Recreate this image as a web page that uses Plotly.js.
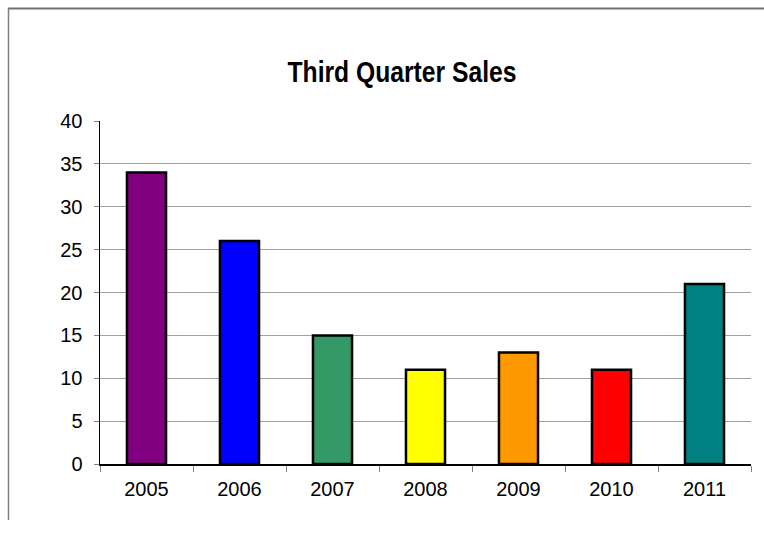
<!DOCTYPE html>
<html>
<head>
<meta charset="utf-8">
<script src="https://cdn.plot.ly/plotly-3.0.1.min.js"></script>
<style>html,body{margin:0;padding:0;background:#fff;}#chart{width:764px;height:535px;}</style>
</head>
<body>
<div id="chart"></div>
<script>
const years = ["2005", "2006", "2007", "2008", "2009", "2010", "2011"];
const sales = [34, 26, 15, 11, 13, 11, 21];
const barColors = ["#800080", "#0000FF", "#339966", "#FFFF00", "#FF9900", "#FF0000", "#008080"];
const yTicks = [0, 5, 10, 15, 20, 25, 30, 35, 40];

const L = 100, R = 751, T = 121, B = 464, W = 764, H = 535;
const px = x => (x - L) / (R - L);
const py = y => (B - y) / (B - T);

const trace = {
  type: "bar",
  x: years,
  y: sales,
  width: 0.42,
  marker: { color: barColors, line: { color: "#000000", width: 2.5 } },
  hoverinfo: "skip"
};

const layout = {
  width: W, height: H,
  margin: { l: L, r: W - R, t: T, b: H - B, pad: 0 },
  paper_bgcolor: "#ffffff",
  plot_bgcolor: "#ffffff",
  showlegend: false,
  font: { family: "Liberation Sans, Arial, sans-serif", size: 20, color: "#000000" },
  title: {
    text: "Third Quarter Sales",
    font: { family: "Liberation Sans, Arial, sans-serif", size: 29, color: "#000000", weight: "bold" },
    xref: "paper", yref: "container",
    x: px(402), y: 1 - 72 / H, xanchor: "center", yanchor: "middle"
  },
  xaxis: {
    type: "category",
    tickson: "boundaries",
    ticks: "outside", ticklen: 6, tickcolor: "#808080", tickwidth: 1,
    showline: true, linecolor: "#000000", linewidth: 1.5,
    showgrid: false, zeroline: false,
    ticklabelstandoff: 6,
    tickfont: { size: 20 }
  },
  yaxis: {
    range: [0, 40],
    tickvals: yTicks,
    ticks: "outside", ticklen: 5, tickcolor: "#808080", tickwidth: 1,
    showline: true, linecolor: "#000000", linewidth: 1.5,
    showgrid: true, gridcolor: "#a0a0a0", gridwidth: 1,
    zeroline: false,
    ticklabelstandoff: 7,
    tickfont: { size: 20 }
  },
  shapes: [
    { type: "line", xref: "paper", yref: "paper", x0: px(8), x1: px(W + 5), y0: py(8.5), y1: py(8.5), line: { color: "#707070", width: 2 } },
    { type: "line", xref: "paper", yref: "paper", x0: px(8.5), x1: px(8.5), y0: py(8), y1: py(520), line: { color: "#808080", width: 1.5 } }
  ]
};

Plotly.newPlot("chart", [trace], layout, { staticPlot: true, displayModeBar: false }).then(gd => {
  const t = gd.querySelector(".gtitle");
  if (t) {
    t.setAttribute("textLength", "229");
    t.setAttribute("lengthAdjust", "spacingAndGlyphs");
  }
});
</script>
</body>
</html>
